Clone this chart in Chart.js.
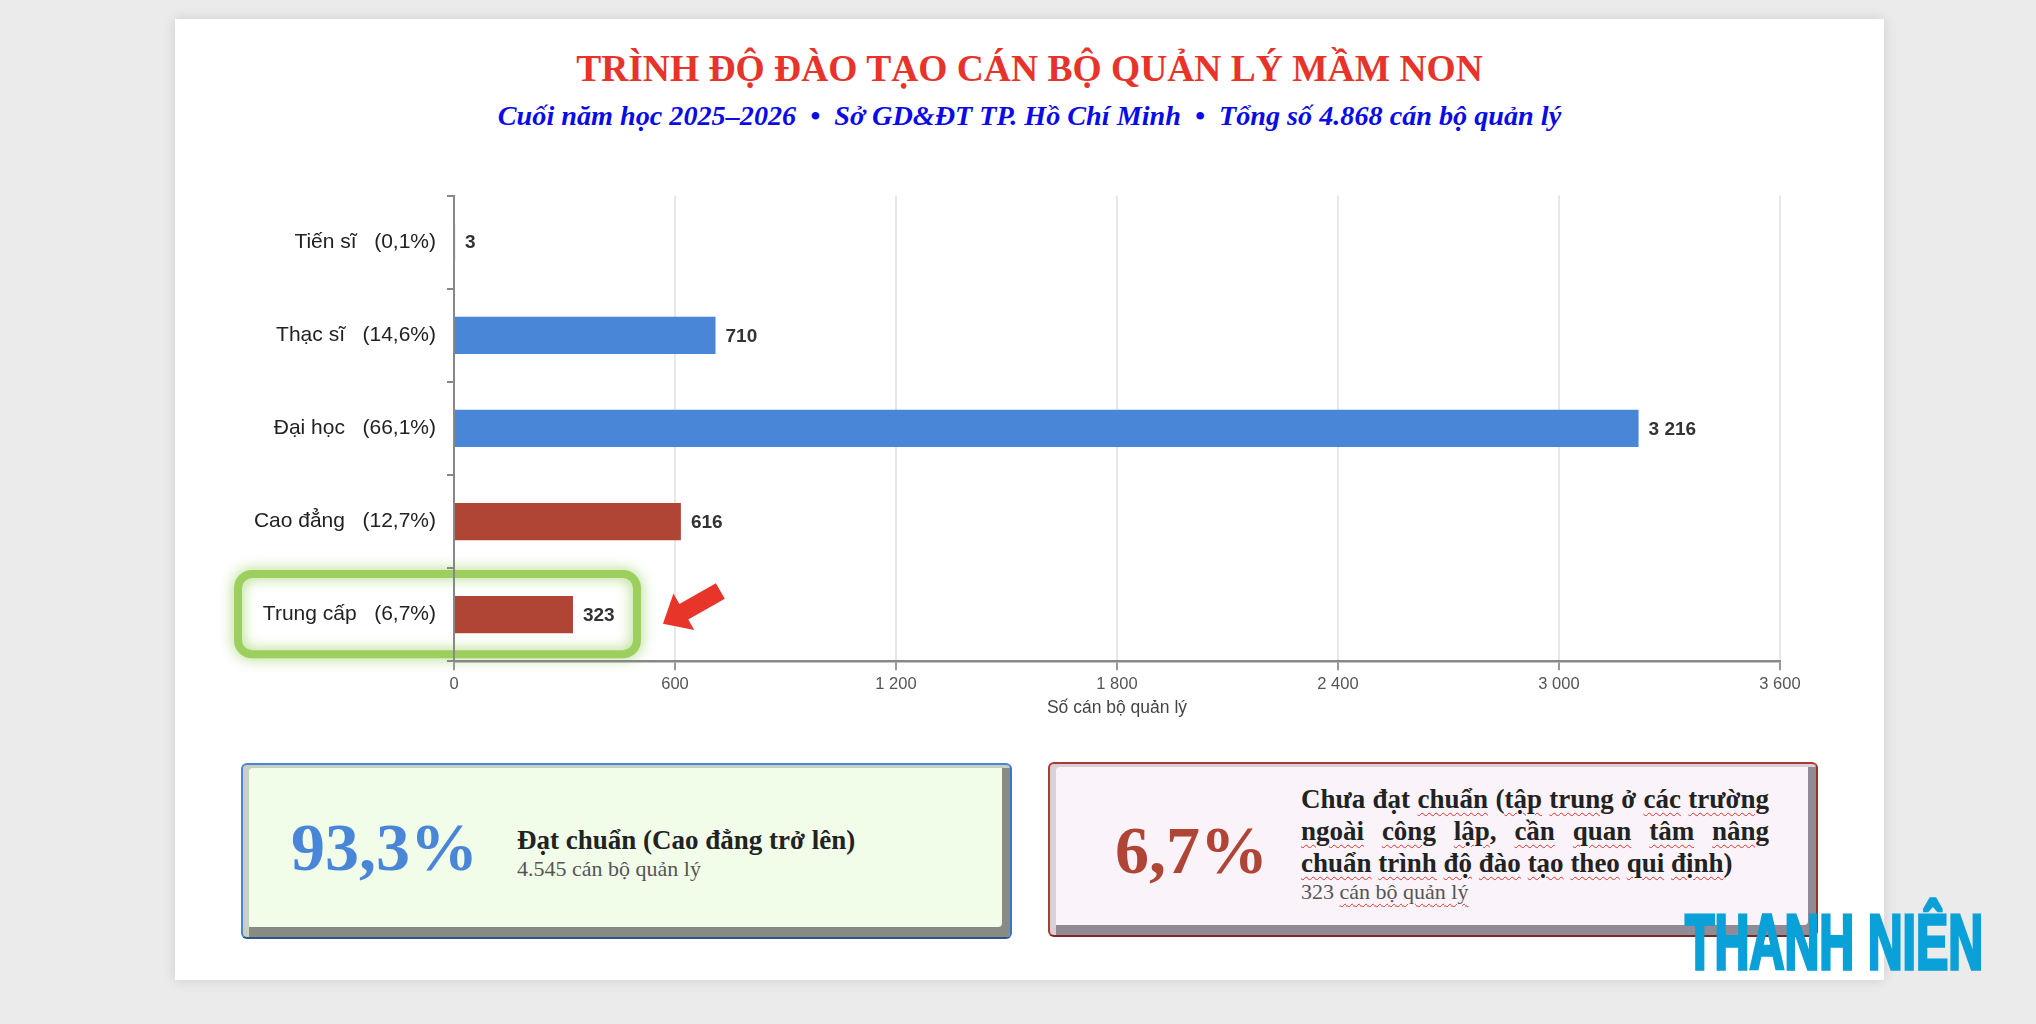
<!DOCTYPE html>
<html lang="vi">
<head>
<meta charset="utf-8">
<title>Trình độ đào tạo cán bộ quản lý mầm non</title>
<script src="https://cdn.jsdelivr.net/npm/chart.js@4.4.1/dist/chart.umd.min.js"></script>
<style>
  html, body { margin: 0; padding: 0; }
  body { width: 2036px; height: 1024px; position: relative; overflow: hidden;
         background: #ebebeb; font-family: "Liberation Serif", "Times New Roman", serif; }
  .card { position: absolute; left: 175px; top: 19px; width: 1709px; height: 961px;
          background: #fff; box-shadow: 0 0 12px rgba(0,0,0,0.13); }
  h1 { position: absolute; left: 175px; width: 1709px; top: 48px; margin: 0; text-align: center;
       font: bold 37.5px/42px "Liberation Serif", serif; color: #e8332a; }
  .sub { position: absolute; left: 175px; width: 1709px; top: 100px; text-align: center;
         font: italic bold 28.2px/32px "Liberation Serif", serif; color: #0b0be8; white-space: pre; }
  .chart-wrap { position: absolute; left: 175px; top: 172px; width: 1709px; height: 547px; }
  .box { position: absolute; box-sizing: border-box; border: 2px solid; border-radius: 6px; }
  .box .pct { position: absolute; top: 50%; transform: translateY(-50%); font: bold 68px/68px "Liberation Serif", serif; }
  .box .txt { position: absolute; top: 50%; transform: translateY(-50%); }
  .box .lead { font: bold 27px/32px "Liberation Serif", serif; color: #222; }
  .box .note { font: 22px/26px "Liberation Serif", serif; color: #555; }
  .ok { left: 241px; top: 763px; width: 771px; height: 176px; background: #f1fce9;
        border-color: #4a86d8 #3f74c0 #2d5588 #4a86d8;
        box-shadow: inset 6px 3px 0 #c8d0c2, inset -8px -10px 0 #878b83; }
  .ok .pct { left: 48px; color: #4a86d8; margin-top: -4px; }
  .ok .txt { left: 274px; margin-top: 2px; }
  .bad { left: 1048px; top: 762px; width: 770px; height: 175px; background: #fbf3fa;
         border-color: #a83c30 #983328 #7a2a22 #a83c30;
         box-shadow: inset 6px 3px 0 #d9cfd9, inset -8px -10px 0 #928a94; }
  .bad .pct { left: 65px; color: #b04536; }
  .bad .txt { left: 251px; width: 468px; text-align: justify; margin-top: -6px; }
  .sp { text-decoration: underline wavy #e0302a; text-decoration-thickness: 1px; text-underline-offset: 4px; }
  .logo { position: absolute; left: 1685px; top: 903px; font: bold 78px/78px "Liberation Sans", Arial, sans-serif;
          color: #0aa0d8; -webkit-text-stroke: 3.5px #0aa0d8; transform: scaleX(0.62); transform-origin: left top;
          white-space: nowrap; }
</style>
</head>
<body>
<div class="card"></div>
<h1>TRÌNH ĐỘ ĐÀO TẠO CÁN BỘ QUẢN LÝ MẦM NON</h1>
<div class="sub">Cuối năm học 2025–2026  •  Sở GD&amp;ĐT TP. Hồ Chí Minh  •  Tổng số 4.868 cán bộ quản lý</div>
<div class="chart-wrap"><canvas id="chart"></canvas></div>

<div class="box ok">
  <div class="pct">93,3%</div>
  <div class="txt">
    <div class="lead">Đạt chuẩn (Cao đẳng trở lên)</div>
    <div class="note">4.545 cán bộ quản lý</div>
  </div>
</div>

<div class="box bad">
  <div class="pct">6,7%</div>
  <div class="txt">
    <div class="lead">Chưa đạt <span class="sp">chuẩn</span> (<span class="sp">tập</span> <span class="sp">trung</span> ở <span class="sp">các</span> <span class="sp">trường</span> <span class="sp">ngoài</span> <span class="sp">công</span> <span class="sp">lập</span>, <span class="sp">cần</span> <span class="sp">quan</span> <span class="sp">tâm</span> <span class="sp">nâng</span> <span class="sp">chuẩn</span> <span class="sp">trình</span> <span class="sp">độ</span> <span class="sp">đào</span> <span class="sp">tạo</span> <span class="sp">theo</span> <span class="sp">qui</span> <span class="sp">định</span>)</div>
    <div class="note">323 <span class="sp">cán bộ quản lý</span></div>
  </div>
</div>

<div class="logo">THANH NIÊN</div>

<script>
const levels = ["Tiến sĩ", "Thạc sĩ", "Đại học", "Cao đẳng", "Trung cấp"];
const shares = ["0,1%", "14,6%", "66,1%", "12,7%", "6,7%"];
const counts = [3, 710, 3216, 616, 323];
const xTicks = [0, 600, 1200, 1800, 2400, 3000, 3600];
const barColors = ["#4a86d8", "#4a86d8", "#4a86d8", "#b04536", "#b04536"];
const highlightIdx = 4;

const sans = "'Liberation Sans', Arial, sans-serif";
const fmt = v => String(v).replace(/\B(?=(\d{3})+(?!\d))/g, " ");

// green frame round the "Trung cấp" row, drawn under the axes
const highlight = {
  id: "highlight",
  beforeDraw(chart) {
    const { ctx, chartArea, scales: { x, y } } = chart;
    const yc = y.getPixelForValue(highlightIdx);
    const band = y.getPixelForValue(1) - y.getPixelForValue(0);
    const top = yc - band / 2 + 6, bot = yc + band / 2 - 7;
    const left = chartArea.left - 216, right = x.getPixelForValue(counts[highlightIdx]) + 64;
    ctx.save();
    ctx.strokeStyle = "#9ccf5e";
    ctx.lineWidth = 8;
    ctx.shadowColor = "rgba(150,205,90,0.9)";
    ctx.shadowBlur = 14;
    ctx.beginPath();
    ctx.roundRect(left, top, right - left, bot - top, 14);
    ctx.stroke();
    ctx.restore();
  }
};

const valueLabels = {
  id: "valueLabels",
  afterDatasetsDraw(chart) {
    const ctx = chart.ctx;
    ctx.save();
    ctx.font = "bold 19px " + sans;
    ctx.fillStyle = "#333";
    ctx.textBaseline = "middle";
    chart.getDatasetMeta(0).data.forEach((bar, i) => ctx.fillText(fmt(counts[i]), bar.x + 10, bar.y + 1));
    ctx.restore();
  }
};

// red arrow pointing at the highlighted bar
const arrow = {
  id: "arrow",
  afterDraw(chart) {
    const ctx = chart.ctx;
    const bar = chart.getDatasetMeta(0).data[highlightIdx];
    ctx.save();
    ctx.translate(bar.x + 90, bar.y + 9);
    ctx.rotate(Math.atan2(-33, 58));
    ctx.fillStyle = "#e8352a";
    ctx.beginPath();
    ctx.moveTo(0, 0);
    ctx.lineTo(24, -21);
    ctx.lineTo(24, -9);
    ctx.lineTo(66, -9);
    ctx.lineTo(66, 9);
    ctx.lineTo(24, 9);
    ctx.lineTo(24, 21);
    ctx.closePath();
    ctx.fill();
    ctx.restore();
  }
};

new Chart(document.getElementById("chart"), {
  type: "bar",
  data: {
    labels: levels.map((l, i) => `${l}   (${shares[i]})`),
    datasets: [{ data: counts, backgroundColor: barColors, barPercentage: 0.5, categoryPercentage: 0.8 }],
  },
  options: {
    indexAxis: "y",
    responsive: true,
    maintainAspectRatio: false,
    animation: false,
    devicePixelRatio: 1,
    layout: { padding: { top: 0, right: 104, bottom: 0, left: 0 } },
    plugins: { legend: { display: false }, tooltip: { enabled: false } },
    scales: {
      x: {
        min: 0, max: 3600,
        afterBuildTicks: s => { s.ticks = xTicks.map(v => ({ value: v })); },
        grid: { color: "#e8e8e8", lineWidth: 2, tickLength: 9, tickColor: "#999" },
        border: { color: "#888", width: 2.5 },
        ticks: { padding: 4, color: "#555", font: { family: sans, size: 16.5 }, callback: v => fmt(v) },
        title: { display: true, text: "Số cán bộ quản lý", color: "#444",
                 font: { family: sans, size: 17.5 }, padding: { top: 0, bottom: 0 } },
      },
      y: {
        afterFit: s => { s.width = 279; },
        grid: { drawOnChartArea: false, tickLength: 7, tickColor: "#888", lineWidth: 2 },
        border: { color: "#888", width: 2 },
        ticks: { padding: 11, color: "#222", font: { family: sans, size: 21 } },
      },
    },
  },
  plugins: [highlight, valueLabels, arrow],
});
</script>
</body>
</html>
